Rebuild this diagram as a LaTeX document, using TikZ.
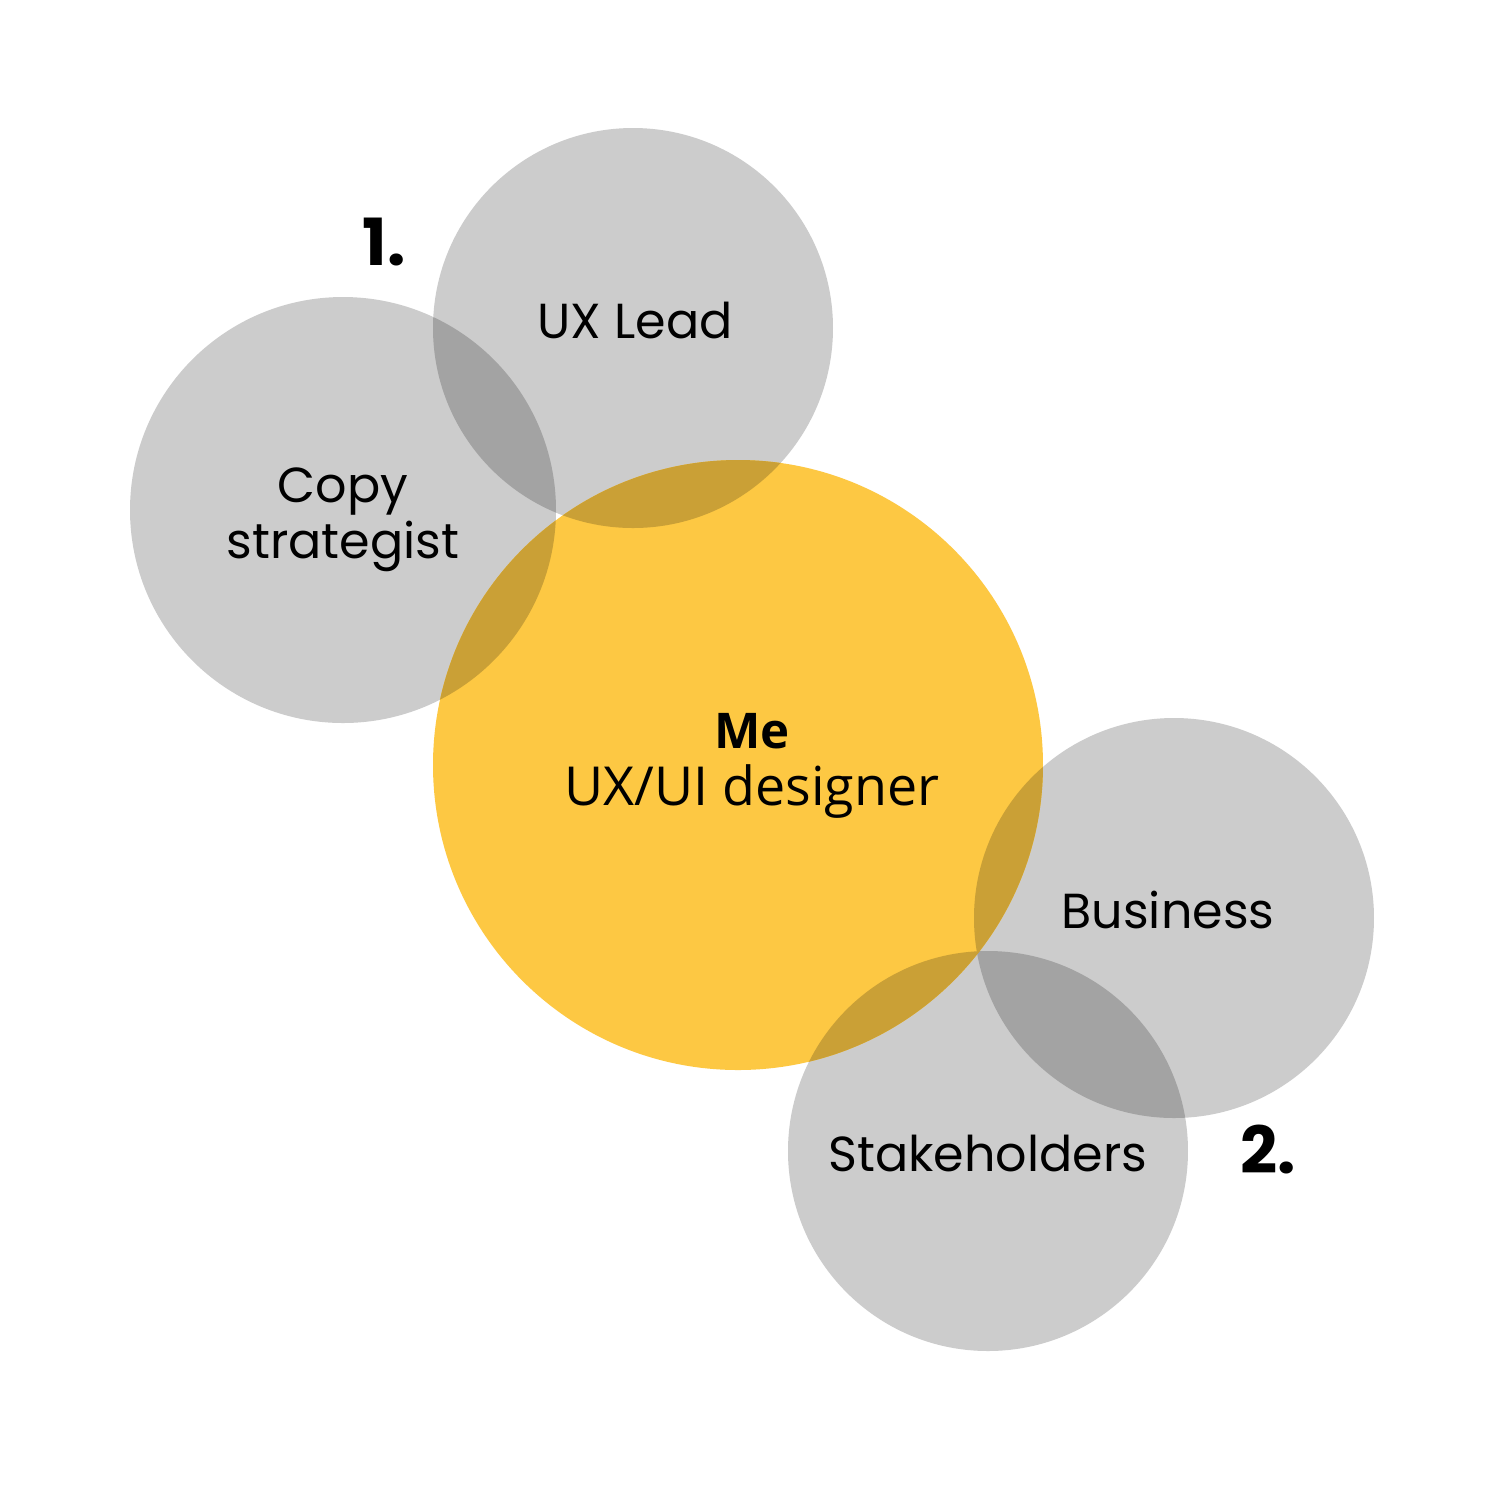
\documentclass[tikz,border=0pt]{standalone}
\usepackage{fontspec}
\setmainfont{Poppins}
\newfontfamily\mefont{Open Sans}
\definecolor{cgray}{HTML}{CCCCCC}
\definecolor{cdark}{HTML}{A3A3A3}
\definecolor{cyel}{HTML}{FDC843}
\definecolor{cmix}{HTML}{CAA036}
\tikzset{
  lbl/.style={anchor=base, inner sep=0pt, font=\fontsize{14}{17}\selectfont},
  num/.style={anchor=base west, inner sep=0pt, font=\fontsize{18.5}{20}\selectfont\bfseries},
  melbl/.style={anchor=base, inner sep=0pt, font=\mefont\fontsize{15.3}{17}\selectfont},
}
\begin{document}
\begin{tikzpicture}[x=0.1mm,y=-0.1mm]
\fill[white] (0,0) rectangle (1504,1504);
\useasboundingbox (0,0) rectangle (1504,1504);
% circles
\def\cUX{(633,328) circle (200)}
\def\cCP{(343,510) circle (213)}
\def\cME{(738,765) circle (305)}
\def\cBU{(1174,918) circle (200)}
\def\cST{(988,1151) circle (200)}
\fill[cgray] \cUX;
\fill[cgray] \cCP;
\fill[cgray] \cBU;
\fill[cgray] \cST;
\fill[cyel] \cME;
% overlaps
\begin{scope}\clip \cUX; \fill[cdark] \cCP; \end{scope}
\begin{scope}\clip \cBU; \fill[cdark] \cST; \end{scope}
\begin{scope}\clip \cME; \fill[cmix] \cUX; \fill[cmix] \cCP; \fill[cmix] \cBU; \fill[cmix] \cST; \end{scope}
% labels
\node[lbl] (ux) at (635,338) {UX Lead};
\node[lbl] (copy1) at (343,502) {Copy};
\node[lbl] (copy2) at (343,558) {strategist};
\node[lbl] (bus) at (1168,928) {Business};
\node[lbl] (stk) at (988,1171) {Stakeholders};
\node[melbl, font=\mefont\fontsize{14}{16}\selectfont\bfseries] (me1) at (752,748) {Me};
\node[melbl] (me2) at (752,805) {UX/UI designer};
\node[num] (n1) at (362,265) {1.};
\node[num] (n2) at (1240,1173) {2.};
\end{tikzpicture}
\end{document}
